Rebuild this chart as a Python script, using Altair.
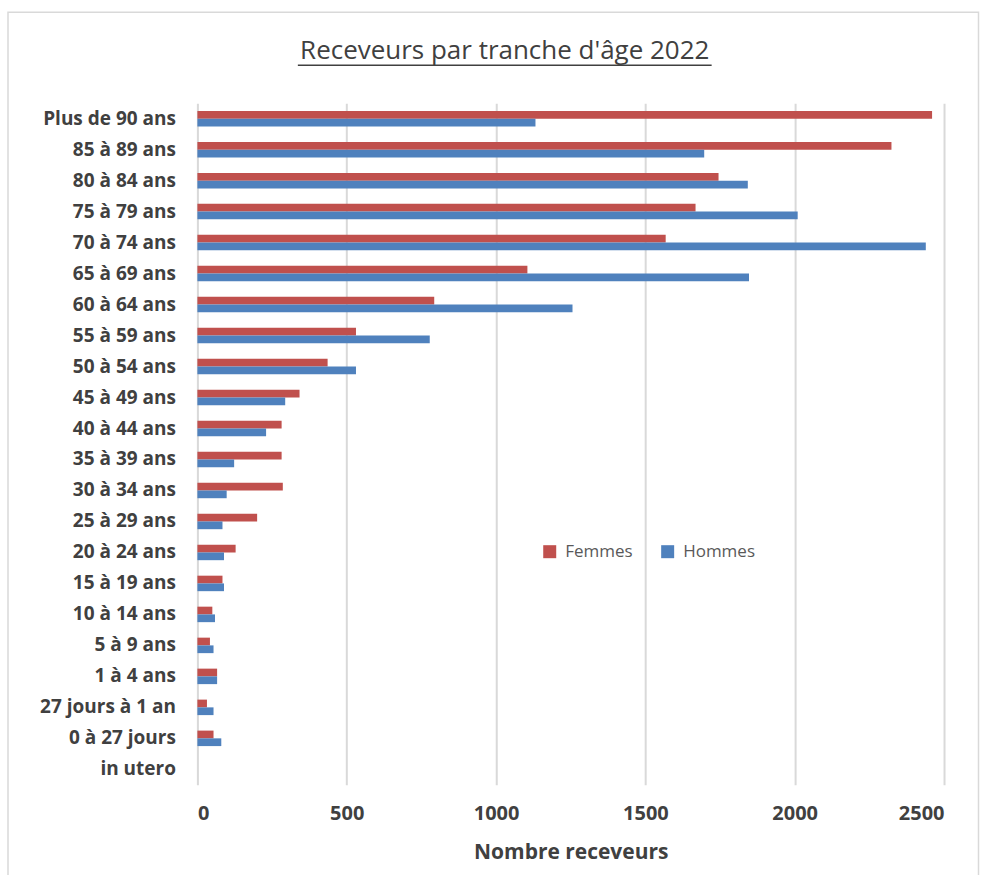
import altair as alt
import pandas as pd

ages = ["Plus de 90 ans", "85 à 89 ans\u2002", "80 à 84 ans", "75 à 79 ans", "70 à 74 ans",
        "65 à 69 ans", "60 à 64 ans", "55 à 59 ans", "50 à 54 ans", "45 à 49 ans",
        "40 à 44 ans", "35 à 39 ans", "30 à 34 ans", "25 à 29 ans", "20 à 24 ans",
        "15 à 19 ans", "10 à 14 ans", "5 à 9 ans", "1 à 4 ans", "27 jours à 1 an",
        "0 à 27 jours", "in utero"]
femmes = [2460, 2324, 1745, 1668, 1568, 1105, 793, 531, 436, 342, 282, 282, 286, 200,
          128, 84, 50, 42, 66, 32, 54, 0]
hommes = [1132, 1697, 1843, 2010, 2439, 1847, 1256, 778, 531, 294, 230, 123, 98, 84,
          89, 89, 59, 54, 66, 54, 80, 0]
series = ["Femmes", "Hommes"]
colors = ["#C0504D", "#4F81BD"]
x_ticks = [0, 500, 1000, 1500, 2000, 2500]
title_text = "Receveurs par tranche d'âge 2022"

rows = []
for a, f, h in zip(ages, femmes, hommes):
    rows.append({"age": a, "sexe": "Femmes", "valeur": f})
    rows.append({"age": a, "sexe": "Hommes", "valeur": h})
df = pd.DataFrame(rows)

FONT = "Open Sans"
TXT = "#404040"

bars = alt.Chart(df).mark_bar().encode(
    x=alt.X("valeur:Q",
            scale=alt.Scale(domain=[0, 2500], nice=False, zero=True),
            axis=alt.Axis(values=x_ticks, title="Nombre receveurs", format="d",
                          labelFont=FONT, labelFontSize=20, labelFontWeight="bold",
                          labelColor=TXT, labelPadding=19, ticks=False, tickSize=0,
                          domain=False, grid=True, gridColor="#D9D9D9", gridWidth=2,
                          titleFont=FONT, titleFontSize=21, titleFontWeight="bold",
                          titleColor=TXT, titlePadding=18)),
    y=alt.Y("age:N", sort=ages,
            scale=alt.Scale(domain=ages, paddingInner=0.5, paddingOuter=0.25),
            axis=alt.Axis(title=None, labelFont=FONT, labelFontSize=19,
                          labelFontWeight="bold", labelColor=TXT, ticks=False,
                          tickSize=0, domain=False, grid=False, labelPadding=22,
                          labelLimit=300)),
    yOffset=alt.YOffset("sexe:N", sort=series),
    color=alt.Color("sexe:N",
                    scale=alt.Scale(domain=series, range=colors),
                    legend=alt.Legend(title=None, orient="none", legendX=344, legendY=440,
                                      direction="horizontal", symbolType="square",
                                      symbolSize=169, symbolStrokeWidth=0,
                                      labelFont=FONT, labelFontSize=17,
                                      labelColor="#595959", columnPadding=26,
                                      labelOffset=7, padding=0)),
)

one = alt.Data(values=[{"k": 1}])

title = alt.Chart(one).mark_text(
    font=FONT, fontSize=26, color=TXT, align="center", baseline="alphabetic"
).encode(x=alt.value(307.5), y=alt.value(-44), text=alt.value(title_text))

underline = alt.Chart(one).mark_rule(
    color=TXT, strokeWidth=1.5
).encode(x=alt.value(100.5), x2=alt.value(514.5), y=alt.value(-38))

frame = alt.Chart(one).mark_rect(
    fill=None, stroke="#D9D9D9", strokeWidth=1.5
).encode(x=alt.value(-189.5), x2=alt.value(781.5), y=alt.value(-91), y2=alt.value(790))

chart = alt.layer(frame, bars, title, underline).properties(
    width=747,
    height=682,
    padding={"left": 197.5, "top": 103, "right": 40, "bottom": 90},
    autosize=alt.AutoSizeParams(type="none"),
).configure_view(stroke=None)

chart.save("out.html", embed_options={"renderer": "svg", "actions": False})
